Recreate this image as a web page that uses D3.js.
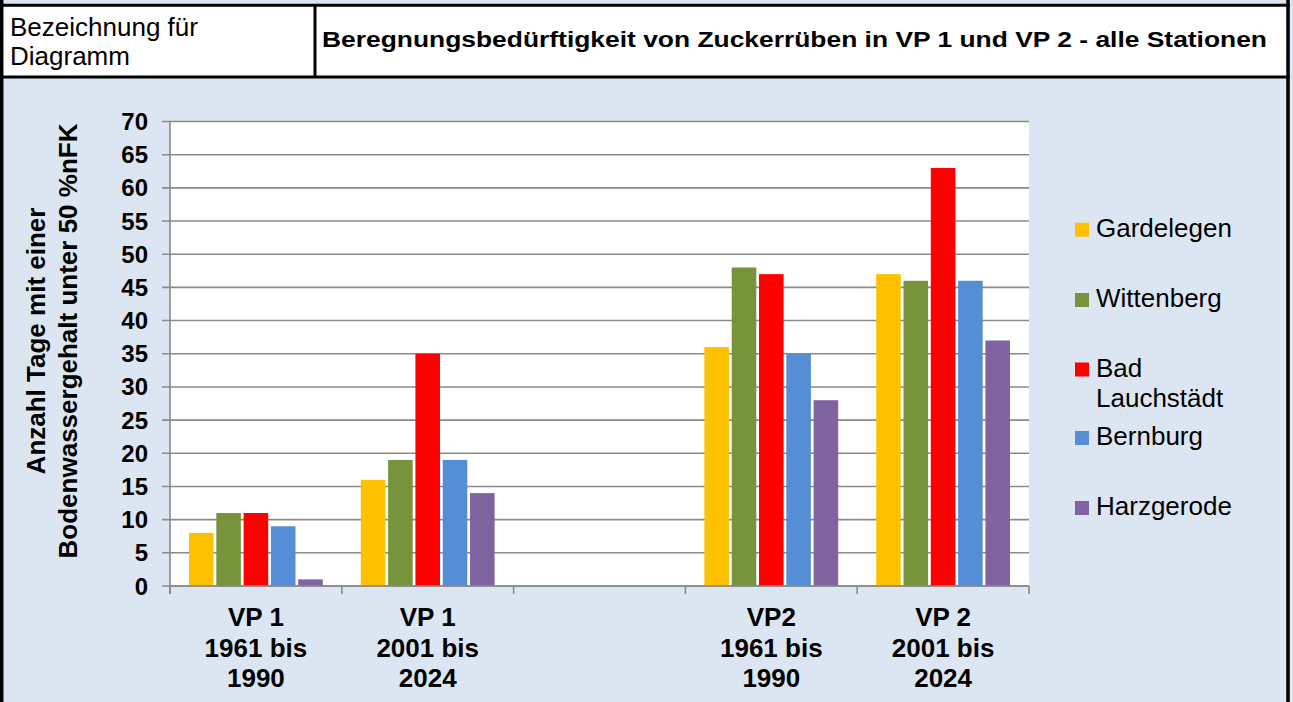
<!DOCTYPE html>
<html>
<head>
<meta charset="utf-8">
<script src="https://cdn.jsdelivr.net/npm/d3@7"></script>
<style>
  body { margin: 0; background: #dce6f2; }
  svg { display: block; font-family: "Liberation Sans", Arial, sans-serif; }
</style>
</head>
<body>
<svg id="chart" width="1293" height="702"></svg>
<script>
// data
var categories = ["VP 1|1961 bis|1990", "VP 1|2001 bis|2024", "", "VP2|1961 bis|1990", "VP 2|2001 bis|2024"];
var stations = ["Gardelegen", "Wittenberg", "Bad Lauchstädt", "Bernburg", "Harzgerode"];
var gardelegen = [8, 16, null, 36, 47];
var wittenberg = [11, 19, null, 48, 46];
var badLauchstaedt = [11, 35, null, 47, 63];
var bernburg = [9, 19, null, 35, 46];
var harzgerode = [1, 14, null, 28, 37];
var yTicks = [0, 5, 10, 15, 20, 25, 30, 35, 40, 45, 50, 55, 60, 65, 70];
var colors = ["#ffc000", "#77933c", "#ff0000", "#558ed5", "#8064a2"];

(function() {
    var seriesValues = [gardelegen, wittenberg, badLauchstaedt, bernburg, harzgerode];

    var svg = d3.select("#chart");

    // header table
    svg.append("rect").attr("x", 0).attr("y", 0).attr("width", 1293).attr("height", 702).attr("fill", "#dce6f2");
    svg.append("rect").attr("x", 3).attr("y", 6).attr("width", 1284).attr("height", 70).attr("fill", "white");

    function line(x1, y1, x2, y2, w) {
        svg.append("line")
            .attr("x1", x1).attr("y1", y1).attr("x2", x2).attr("y2", y2)
            .attr("stroke", "black").attr("stroke-width", w);
    }
    line(0, 5.3, 1290, 5.3, 3);
    line(0, 77, 1290, 77, 3);
    line(1.7, 0, 1.7, 702, 3.5);
    line(1288, 0, 1288, 702, 3.5);
    line(315, 5, 315, 77, 3);

    svg.append("text").attr("x", 10).attr("y", 36).attr("font-size", 26).text("Bezeichnung für");
    svg.append("text").attr("x", 10).attr("y", 65).attr("font-size", 26).text("Diagramm");
    svg.append("text")
        .attr("x", 322).attr("y", 47)
        .attr("font-size", 21.5).attr("font-weight", "bold")
        .attr("textLength", 945).attr("lengthAdjust", "spacingAndGlyphs")
        .text("Beregnungsbedürftigkeit von Zuckerrüben in VP 1 und VP 2 - alle Stationen");

    // plot area
    var plotLeft = 170, plotRight = 1029, plotTop = 121.5, plotBottom = 586;

    var x = d3.scaleBand().domain(d3.range(categories.length)).range([plotLeft, plotRight]);
    var xInner = d3.scaleBand().domain(d3.range(stations.length))
        .range([19, x.bandwidth() - 19]).paddingInner(0.1);
    var y = d3.scaleLinear().domain([0, 70]).range([plotBottom, plotTop]);

    svg.append("rect")
        .attr("x", plotLeft).attr("y", plotTop)
        .attr("width", plotRight - plotLeft).attr("height", plotBottom - plotTop)
        .attr("fill", "white");

    // gridlines + y ticks
    svg.append("g").selectAll("line")
        .data(yTicks)
        .enter()
        .append("line")
        .attr("x1", plotLeft - 8).attr("x2", plotRight)
        .attr("y1", function(d) { return y(d); })
        .attr("y2", function(d) { return y(d); })
        .attr("stroke", "#8a8a8a").attr("stroke-width", 1.6);

    svg.append("g").selectAll("text")
        .data(yTicks)
        .enter()
        .append("text")
        .attr("x", 148)
        .attr("y", function(d) { return y(d) + 8.5; })
        .attr("text-anchor", "end")
        .attr("font-size", 24).attr("font-weight", "bold")
        .text(function(d) { return d; });

    // bars
    var g = svg.append("g");
    seriesValues.forEach(function(vals, s) {
        g.selectAll(null)
            .data(vals.map(function(v, i) { return { i: i, v: v }; }).filter(function(d) { return d.v != null; }))
            .enter()
            .append("rect")
            .attr("x", function(d) { return x(d.i) + xInner(s); })
            .attr("y", function(d) { return y(d.v); })
            .attr("width", xInner.bandwidth())
            .attr("height", function(d) { return y(0) - y(d.v); })
            .attr("fill", colors[s]);
    });

    // axis lines and category ticks
    svg.append("line").attr("x1", plotLeft).attr("x2", plotLeft).attr("y1", plotTop).attr("y2", plotBottom + 8)
        .attr("stroke", "#8a8a8a").attr("stroke-width", 1.6);
    svg.append("line").attr("x1", plotLeft).attr("x2", plotRight).attr("y1", plotBottom).attr("y2", plotBottom)
        .attr("stroke", "#8a8a8a").attr("stroke-width", 1.6);
    svg.append("g").selectAll("line")
        .data(d3.range(categories.length + 1))
        .enter()
        .append("line")
        .attr("x1", function(d) { return plotLeft + d * x.step(); })
        .attr("x2", function(d) { return plotLeft + d * x.step(); })
        .attr("y1", plotBottom).attr("y2", plotBottom + 8)
        .attr("stroke", "#8a8a8a").attr("stroke-width", 1.6);

    // category labels, three lines each
    svg.append("g").selectAll("text")
        .data(categories)
        .enter()
        .append("text")
        .attr("text-anchor", "middle")
        .attr("font-size", 26).attr("font-weight", "bold")
        .each(function(d, i) {
            var t = d3.select(this);
            d.split("|").forEach(function(s, k) {
                if (s == "") return;
                t.append("tspan")
                    .attr("x", x(i) + x.bandwidth() / 2)
                    .attr("y", 626 + k * 30.5)
                    .text(s);
            });
        });

    // y axis title
    var yt = svg.append("text")
        .attr("transform", "translate(0,341) rotate(-90)")
        .attr("text-anchor", "middle")
        .attr("font-size", 26).attr("font-weight", "bold");
    yt.append("tspan").attr("x", 0).attr("y", 45).text("Anzahl Tage mit einer");
    yt.append("tspan").attr("x", 0).attr("y", 77).text("Bodenwassergehalt unter 50 %nFK");

    // legend
    var legendY = [236.7, 307, 376.5, 445, 515];
    var lg = svg.append("g").selectAll("g")
        .data(stations)
        .enter()
        .append("g")
        .attr("transform", function(d, i) { return "translate(1075," + legendY[i] + ")"; });
    lg.append("rect")
        .attr("x", 0).attr("y", -14)
        .attr("width", 14).attr("height", 14)
        .attr("fill", function(d, i) { return colors[i]; });
    lg.append("text")
        .attr("font-size", 26)
        .each(function(d) {
            var t = d3.select(this);
            var parts = d == "Bad Lauchstädt" ? ["Bad", "Lauchstädt"] : [d];
            parts.forEach(function(p, k) {
                t.append("tspan").attr("x", 21).attr("y", k * 30.5).text(p);
            });
        });
})();
</script>
</body>
</html>
